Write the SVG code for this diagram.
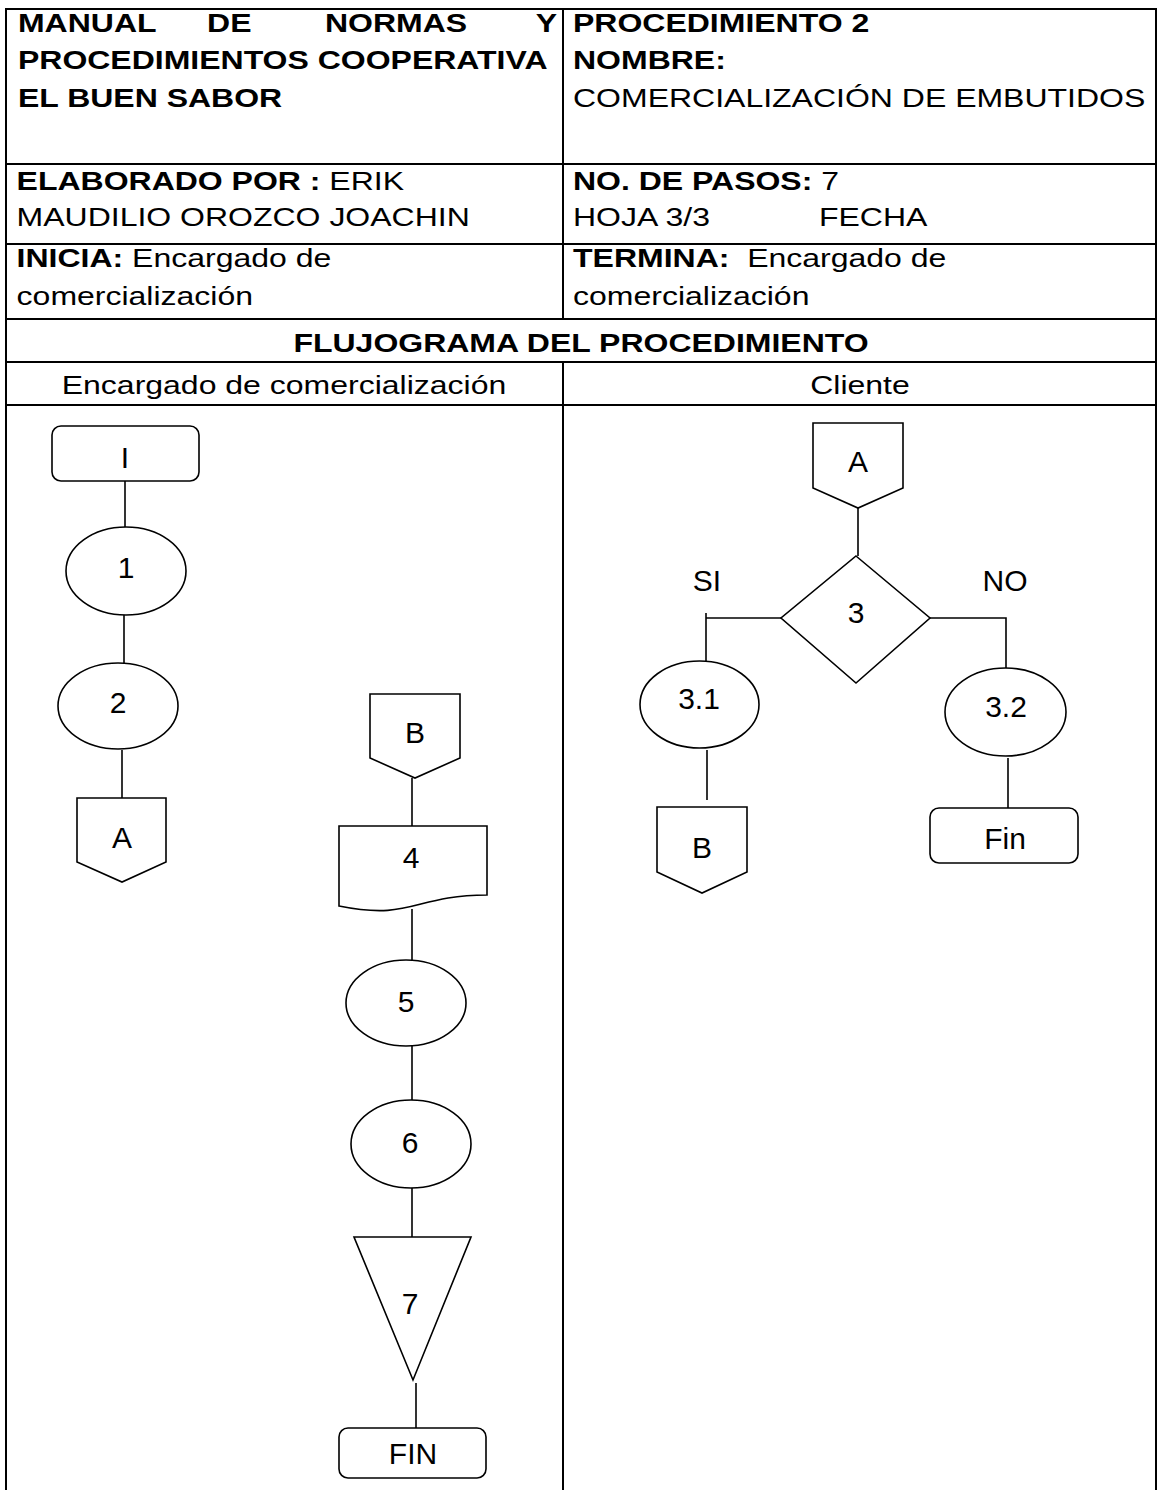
<svg xmlns="http://www.w3.org/2000/svg" width="1157" height="1490" viewBox="0 0 1157 1490">
<style>
.grid{stroke:#000;stroke-width:2;fill:none}
.shape{stroke:#000;stroke-width:1.6;fill:#fff}
.conn{stroke:#000;stroke-width:1.6;fill:none}
.h{font-family:"Liberation Sans",Arial,sans-serif;font-size:26px;fill:#000;white-space:pre}
.b{font-weight:bold}
.lbl{font-family:"Liberation Sans",Arial,sans-serif;font-size:30px;fill:#000;text-anchor:middle}
</style>
<rect x="0" y="0" width="1157" height="1490" fill="#fff"/>
<g id="table">
<line class="grid" x1="6" y1="9" x2="6" y2="1490"/>
<line class="grid" x1="1156" y1="9" x2="1156" y2="1490"/>
<line class="grid" x1="5" y1="9" x2="1157" y2="9"/>
<line class="grid" x1="5" y1="164" x2="1157" y2="164"/>
<line class="grid" x1="5" y1="244" x2="1157" y2="244"/>
<line class="grid" x1="5" y1="319" x2="1157" y2="319"/>
<line class="grid" x1="5" y1="362" x2="1157" y2="362"/>
<line class="grid" x1="5" y1="405" x2="1157" y2="405"/>
<line class="grid" x1="563" y1="9" x2="563" y2="319"/>
<line class="grid" x1="563" y1="362" x2="563" y2="1490"/>
</g>
<g id="header-text" transform="scale(1.231 1)">
<text class="h b" x="14.6" y="32">MANUAL</text>
<text class="h b" x="168.2" y="32">DE</text>
<text class="h b" x="264" y="32">NORMAS</text>
<text class="h b" x="452.5" y="32" text-anchor="end">Y</text>
<text class="h b" x="14.6" y="69">PROCEDIMIENTOS COOPERATIVA</text>
<text class="h b" x="14.6" y="107">EL BUEN SABOR</text>
<text class="h b" x="465.5" y="32">PROCEDIMIENTO 2</text>
<text class="h b" x="465.5" y="69">NOMBRE:</text>
<text class="h" x="465.5" y="107">COMERCIALIZACIÓN DE EMBUTIDOS</text>
<text class="h" x="13.5" y="190"><tspan class="b">ELABORADO POR :</tspan> ERIK</text>
<text class="h" x="13.5" y="226">MAUDILIO OROZCO JOACHIN</text>
<text class="h" x="465.5" y="190"><tspan class="b">NO. DE PASOS:</tspan> 7</text>
<text class="h" x="465.5" y="226">HOJA 3/3</text>
<text class="h" x="665.3" y="226">FECHA</text>
<text class="h" x="13.5" y="267"><tspan class="b">INICIA:</tspan> Encargado de</text>
<text class="h" x="13.5" y="305">comercialización</text>
<text class="h" x="465.5" y="267"><tspan class="b">TERMINA:</tspan>  Encargado de</text>
<text class="h" x="465.5" y="305">comercialización</text>
<text class="h b" x="472" y="352" text-anchor="middle">FLUJOGRAMA DEL PROCEDIMIENTO</text>
<text class="h" x="230.7" y="394" text-anchor="middle">Encargado de comercialización</text>
<text class="h" x="698.6" y="394" text-anchor="middle">Cliente</text>
</g>
<g id="connectors">
<line class="conn" x1="125" y1="481" x2="125" y2="527"/>
<line class="conn" x1="124" y1="615" x2="124" y2="663"/>
<line class="conn" x1="122" y1="750" x2="122" y2="798"/>
<line class="conn" x1="412" y1="778" x2="412" y2="826"/>
<line class="conn" x1="412" y1="909" x2="412" y2="960"/>
<line class="conn" x1="412" y1="1046" x2="412" y2="1100"/>
<line class="conn" x1="412" y1="1188" x2="412" y2="1237"/>
<line class="conn" x1="416" y1="1383" x2="416" y2="1428"/>
<line class="conn" x1="858" y1="508" x2="858" y2="556"/>
<polyline class="conn" points="781,618 706,618"/>
<line class="conn" x1="706" y1="613" x2="706" y2="661"/>
<polyline class="conn" points="930,618 1006,618 1006,668"/>
<line class="conn" x1="707" y1="750" x2="707" y2="800"/>
<line class="conn" x1="1008" y1="758" x2="1008" y2="808"/>
</g>
<g id="node-I"><rect class="shape" x="52" y="426" width="147" height="55" rx="9"/><text class="lbl" x="125" y="468">I</text></g>
<g id="node-1"><ellipse class="shape" cx="126" cy="571" rx="60" ry="44"/><text class="lbl" x="126" y="578">1</text></g>
<g id="node-2"><ellipse class="shape" cx="118" cy="706" rx="60" ry="43"/><text class="lbl" x="118" y="713">2</text></g>
<g id="node-A-out"><polygon class="shape" points="77,798 166,798 166,862 122,882 77,862"/><text class="lbl" x="122" y="848">A</text></g>
<g id="node-B-in"><polygon class="shape" points="370,694 460,694 460,758 415,778 370,758"/><text class="lbl" x="415" y="743">B</text></g>
<g id="node-4"><path class="shape" d="M339,826 H487 V895 C413,895 413,921 339,906 Z"/><text class="lbl" x="411" y="868">4</text></g>
<g id="node-5"><ellipse class="shape" cx="406" cy="1003" rx="60" ry="43"/><text class="lbl" x="406" y="1012">5</text></g>
<g id="node-6"><ellipse class="shape" cx="411" cy="1144" rx="60" ry="44"/><text class="lbl" x="410" y="1153">6</text></g>
<g id="node-7"><polygon class="shape" points="354,1237 471,1237 413,1380"/><text class="lbl" x="410" y="1314">7</text></g>
<g id="node-FIN"><rect class="shape" x="339" y="1428" width="147" height="50" rx="9"/><text class="lbl" x="413" y="1464">FIN</text></g>
<g id="node-A-in"><polygon class="shape" points="813,423 903,423 903,488 858,508 813,488"/><text class="lbl" x="858" y="472">A</text></g>
<g id="node-3"><polygon class="shape" points="856,556 930,618 856,683 781,618"/><text class="lbl" x="856" y="623">3</text></g>
<g id="label-SI"><text class="lbl" x="707" y="591">SI</text></g>
<g id="label-NO"><text class="lbl" x="1005" y="591">NO</text></g>
<g id="node-3-1"><ellipse class="shape" cx="699.5" cy="704.5" rx="59.5" ry="43.5"/><text class="lbl" x="699" y="709">3.1</text></g>
<g id="node-3-2"><ellipse class="shape" cx="1005.5" cy="712" rx="60.5" ry="44"/><text class="lbl" x="1006" y="717">3.2</text></g>
<g id="node-B-out"><polygon class="shape" points="657,807 747,807 747,872 702,893 657,872"/><text class="lbl" x="702" y="858">B</text></g>
<g id="node-Fin"><rect class="shape" x="930" y="808" width="148" height="55" rx="9"/><text class="lbl" x="1005" y="849">Fin</text></g>
</svg>
